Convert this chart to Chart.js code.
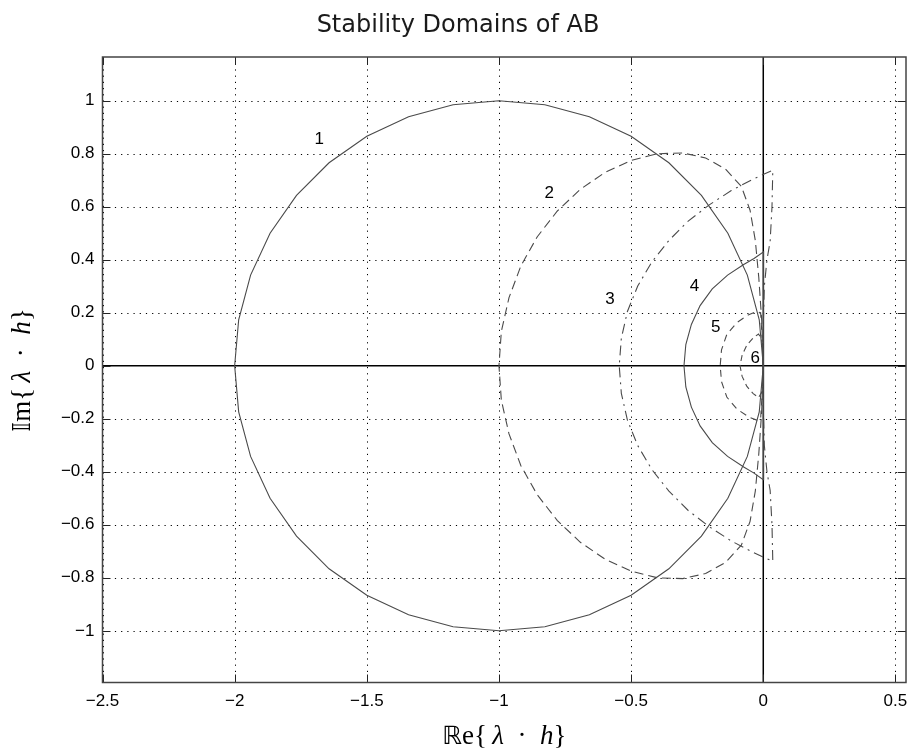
<!DOCTYPE html>
<html>
<head>
<meta charset="utf-8">
<script src="https://cdn.jsdelivr.net/npm/chart.js@4.4.1/dist/chart.umd.min.js"></script>
<style>
html, body { margin: 0; padding: 0; background: #fff; }
#wrap { width: 915px; height: 754px; }
</style>
</head>
<body>
<div id="wrap"><canvas id="abChart" width="915" height="754"></canvas></div>
<script>
// tick values of both axes
var xTicks = [-2.5, -2, -1.5, -1, -0.5, 0, 0.5];
var yTicks = [-1, -0.8, -0.6, -0.4, -0.2, 0, 0.2, 0.4, 0.6, 0.8, 1];

// boundary curves (Re / Im)
var c1Re = [0, -0.0152, -0.0603, -0.1340, -0.2340, -0.3572, -0.5, -0.6580, -0.8264, -1, -1.1736, -1.3420, -1.5, -1.6428, -1.7660, -1.8660, -1.9397, -1.9848, -2, -1.9848, -1.9397, -1.8660, -1.7660, -1.6428, -1.5, -1.3420, -1.1736, -1, -0.8264, -0.6580, -0.5, -0.3572, -0.2340, -0.1340, -0.0603, -0.0152, 0];
var c1Im = [0, 0.1736, 0.3420, 0.5, 0.6428, 0.7660, 0.8660, 0.9397, 0.9848, 1, 0.9848, 0.9397, 0.8660, 0.7660, 0.6428, 0.5, 0.3420, 0.1736, 0, -0.1736, -0.3420, -0.5, -0.6428, -0.7660, -0.8660, -0.9397, -0.9848, -1, -0.9848, -0.9397, -0.8660, -0.7660, -0.6428, -0.5, -0.3420, -0.1736, 0];

var c2Re = [0, -0.006, -0.017, -0.030, -0.050, -0.083, -0.143, -0.218, -0.305, -0.400, -0.499, -0.598, -0.692, -0.779, -0.855, -0.917, -0.962, -0.991, -1, -0.991, -0.962, -0.917, -0.855, -0.779, -0.692, -0.598, -0.499, -0.400, -0.305, -0.218, -0.143, -0.083, -0.050, -0.030, -0.017, -0.006, 0];
var c2Im = [0, 0.172, 0.333, 0.472, 0.587, 0.677, 0.742, 0.784, 0.803, 0.800, 0.775, 0.730, 0.666, 0.584, 0.487, 0.377, 0.257, 0.130, 0, -0.130, -0.257, -0.377, -0.487, -0.584, -0.666, -0.730, -0.775, -0.800, -0.803, -0.784, -0.742, -0.677, -0.587, -0.472, -0.333, -0.172, 0];

var c3Re = [0, 0, 0.004, 0.014, 0.026, 0.033, 0.036, -0.041, -0.121, -0.203, -0.284, -0.357, -0.422, -0.475, -0.514, -0.537, -0.545, -0.537, -0.514, -0.475, -0.422, -0.357, -0.284, -0.203, -0.121, -0.041, 0.036, 0.033, 0.026, 0.014, 0.004, 0, 0];
var c3Im = [0, 0.15, 0.30, 0.40, 0.47, 0.60, 0.738, 0.703, 0.661, 0.608, 0.546, 0.473, 0.391, 0.301, 0.205, 0.104, 0, -0.104, -0.205, -0.301, -0.391, -0.473, -0.546, -0.608, -0.661, -0.703, -0.738, -0.60, -0.47, -0.40, -0.30, -0.15, 0];

var c4Re = [0, 0.002, 0.002, 0, -0.035, -0.074, -0.135, -0.193, -0.239, -0.272, -0.293, -0.3, -0.293, -0.272, -0.239, -0.193, -0.135, -0.074, -0.035, 0, 0.002, 0.002, 0];
var c4Im = [0, 0.15, 0.30, 0.43, 0.405, 0.382, 0.342, 0.29, 0.227, 0.156, 0.08, 0, -0.08, -0.156, -0.227, -0.29, -0.342, -0.382, -0.405, -0.43, -0.30, -0.15, 0];

var c5Re = [0, -0.004, -0.01, -0.025, -0.055, -0.1, -0.138, -0.158, -0.163, -0.158, -0.138, -0.1, -0.055, -0.025, -0.01, -0.004, 0];
var c5Im = [0, 0.1, 0.2, 0.205, 0.193, 0.163, 0.118, 0.06, 0, -0.06, -0.118, -0.163, -0.193, -0.205, -0.2, -0.1, 0];

var c6Re = [0, -0.002, -0.006, -0.018, -0.038, -0.062, -0.08, -0.088, -0.08, -0.062, -0.038, -0.018, -0.006, -0.002, 0];
var c6Im = [0, 0.05, 0.1, 0.12, 0.105, 0.078, 0.04, 0, -0.04, -0.078, -0.105, -0.12, -0.1, -0.05, 0];

// where the curve numbers sit (data coords)
var curveNames = ['1', '2', '3', '4', '5', '6'];
var nameRe = [-1.68, -0.81, -0.58, -0.26, -0.18, -0.03];
var nameIm = [0.853, 0.652, 0.25, 0.298, 0.147, 0.027];

var lineStyles = [
	{ dash: [], width: 1.1 },
	{ dash: [9, 5], width: 1.1 },
	{ dash: [10, 5, 2, 5], width: 1.1 },
	{ dash: [], width: 1.1 },
	{ dash: [7, 5], width: 1.1 },
	{ dash: [6, 4], width: 1.1 }
];
var CURVE_COLOR = '#4a4a4a';
var TICK_FONT = { family: 'Liberation Sans, Arial, sans-serif', size: 17 };

function toPoints(re, im) {
	return re.map(function(x, i) { return { x: x, y: im[i] }; });
}

function minusSign(v) {
	return String(v).replace('-', '\u2212');
}

var curves = [[c1Re, c1Im], [c2Re, c2Im], [c3Re, c3Im], [c4Re, c4Im], [c5Re, c5Im], [c6Re, c6Im]];
var datasets = curves.map(function(c, i) {
	return {
		label: curveNames[i],
		data: toPoints(c[0], c[1]),
		showLine: true,
		pointRadius: 0,
		borderColor: CURVE_COLOR,
		borderWidth: lineStyles[i].width,
		borderDash: lineStyles[i].dash,
		tension: 0,
		fill: false
	};
});

// dotted grid plus the solid lines through zero
var gridPlugin = {
	id: 'dottedGrid',
	beforeDatasetsDraw: function(chart) {
		var ctx = chart.ctx, a = chart.chartArea;
		var xs = chart.scales.x, ys = chart.scales.y;
		ctx.save();
		ctx.strokeStyle = '#000';
		ctx.lineWidth = 1;
		ctx.setLineDash([1.2, 5]);
		xTicks.forEach(function(v) {
			if (v === 0) return;
			var px = Math.round(xs.getPixelForValue(v)) + 0.5;
			ctx.beginPath(); ctx.moveTo(px, a.top); ctx.lineTo(px, a.bottom); ctx.stroke();
		});
		yTicks.forEach(function(v) {
			if (v === 0) return;
			var py = Math.round(ys.getPixelForValue(v)) + 0.5;
			ctx.beginPath(); ctx.moveTo(a.left, py); ctx.lineTo(a.right, py); ctx.stroke();
		});
		ctx.setLineDash([]);
		ctx.lineWidth = 1.5;
		var x0 = xs.getPixelForValue(0), y0 = ys.getPixelForValue(0);
		ctx.beginPath(); ctx.moveTo(a.left, y0); ctx.lineTo(a.right, y0); ctx.stroke();
		ctx.beginPath(); ctx.moveTo(x0, a.top); ctx.lineTo(x0, a.bottom); ctx.stroke();
		ctx.restore();
	}
};

function drawMath(ctx, parts, cx, cy, rot) {
	ctx.save();
	ctx.translate(cx, cy);
	ctx.rotate(rot);
	var total = 0;
	parts.forEach(function(p) { ctx.font = p.f; p.w = ctx.measureText(p.t).width; total += p.w; });
	var x = -total / 2;
	ctx.textAlign = 'left';
	ctx.textBaseline = 'alphabetic';
	ctx.fillStyle = '#000';
	parts.forEach(function(p) { ctx.font = p.f; ctx.fillText(p.t, x, 9); x += p.w; });
	ctx.restore();
}

function labelParts(first) {
	var rm = '27px "Liberation Serif", serif';
	var it = 'italic 27px "Liberation Serif", serif';
	return [
		{ t: first, f: '25px "DejaVu Sans", sans-serif' },
		{ t: first === '\u211D' ? 'e' : 'm', f: rm },
		{ t: '{', f: rm },
		{ t: '\u2009\u03BB', f: it },
		{ t: '\u2002\u00B7\u2002', f: rm },
		{ t: 'h', f: it },
		{ t: '}', f: rm }
	];
}

// frame, inward ticks, curve numbers, title and axis names
var framePlugin = {
	id: 'frame',
	afterDatasetsDraw: function(chart) {
		var ctx = chart.ctx, a = chart.chartArea;
		var xs = chart.scales.x, ys = chart.scales.y;
		var TL = 8;
		ctx.save();
		ctx.strokeStyle = '#222';
		ctx.lineWidth = 1;
		xTicks.forEach(function(v) {
			var px = Math.round(xs.getPixelForValue(v)) + 0.5;
			ctx.beginPath(); ctx.moveTo(px, a.bottom); ctx.lineTo(px, a.bottom - TL); ctx.stroke();
			ctx.beginPath(); ctx.moveTo(px, a.top); ctx.lineTo(px, a.top + TL); ctx.stroke();
		});
		yTicks.forEach(function(v) {
			var py = Math.round(ys.getPixelForValue(v)) + 0.5;
			ctx.beginPath(); ctx.moveTo(a.left, py); ctx.lineTo(a.left + TL, py); ctx.stroke();
			ctx.beginPath(); ctx.moveTo(a.right, py); ctx.lineTo(a.right - TL, py); ctx.stroke();
		});
		ctx.strokeStyle = '#444';
		ctx.lineWidth = 1.5;
		ctx.strokeRect(a.left, a.top, a.right - a.left, a.bottom - a.top);

		ctx.fillStyle = '#000';
		ctx.font = '17px "Liberation Sans", Arial, sans-serif';
		ctx.textAlign = 'center';
		ctx.textBaseline = 'middle';
		curveNames.forEach(function(n, i) {
			ctx.fillText(n, xs.getPixelForValue(nameRe[i]), ys.getPixelForValue(nameIm[i]));
		});

		ctx.font = '24px "DejaVu Sans", sans-serif';
		ctx.textBaseline = 'alphabetic';
		ctx.fillStyle = '#1a1a1a';
		ctx.fillText('Stability Domains of AB', 458, 32);

		drawMath(ctx, labelParts('\u211D'), (a.left + a.right) / 2, 735, 0);
		drawMath(ctx, labelParts('\uD835\uDD40'), 21, 370, -Math.PI / 2);
		ctx.restore();
	}
};

var chart = new Chart(document.getElementById('abChart'), {
	type: 'scatter',
	data: { datasets: datasets },
	options: {
		responsive: false,
		animation: false,
		devicePixelRatio: 1,
		layout: { padding: { top: 57, right: 9, left: 0, bottom: 0 } },
		plugins: { legend: { display: false }, tooltip: { enabled: false }, title: { display: false } },
		scales: {
			x: {
				type: 'linear',
				min: -2.5,
				max: 0.54,
				afterBuildTicks: function(s) { s.ticks = xTicks.map(function(v) { return { value: v }; }); },
				afterFit: function(s) { s.height = 71.5; s.paddingLeft = 0; s.paddingRight = 0; },
				ticks: { callback: minusSign, font: TICK_FONT, color: '#000', padding: 9, autoSkip: false, maxRotation: 0 },
				grid: { display: false, drawTicks: false },
				border: { display: false }
			},
			y: {
				type: 'linear',
				min: -1.195,
				max: 1.165,
				afterBuildTicks: function(s) { s.ticks = yTicks.map(function(v) { return { value: v }; }); },
				afterFit: function(s) { s.width = 102.5; },
				ticks: { callback: minusSign, font: TICK_FONT, color: '#000', padding: 8, autoSkip: false },
				grid: { display: false, drawTicks: false },
				border: { display: false }
			}
		}
	},
	plugins: [gridPlugin, framePlugin]
});
</script>
</body>
</html>
